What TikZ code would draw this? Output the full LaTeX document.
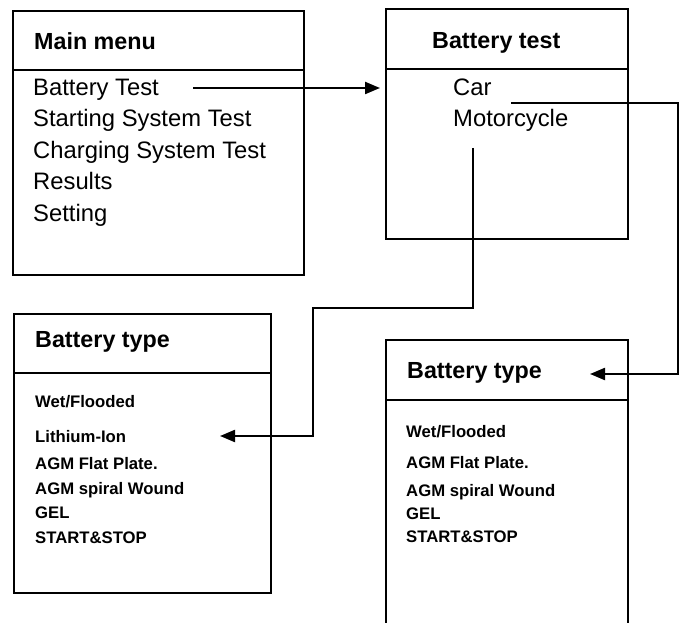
\documentclass[tikz,border=0pt]{standalone}
\usepackage{fontspec}
\setmainfont{Liberation Sans}
\usetikzlibrary{calc}
\usetikzlibrary{arrows.meta}
\tikzstyle{menubox} = [
    draw,
    line width=2.2pt,
    rectangle,
    anchor=north west,
    inner sep=0pt
    ]
\tikzstyle{menutitle} =[
    anchor=base west,
    inner sep=0pt,
    font=\bfseries\fontsize{23.3}{27}\selectfont
    ]
\tikzstyle{menuitem} =[
    anchor=base west,
    inner sep=0pt,
    font=\fontsize{23.8}{27}\selectfont
    ]
\tikzstyle{typeitem} =[
    anchor=base west,
    inner sep=0pt,
    font=\bfseries\fontsize{16.7}{20}\selectfont
    ]
\tikzstyle{divider} = [line width=2.2pt]
\tikzstyle{link} = [line width=2.2pt, -{Triangle[length=15pt,width=12pt]}]

\begin{document}
\begin{tikzpicture}[x=1pt,y=-1pt]
\clip (0,0) rectangle (681,623);

% boxes
\node[menubox, minimum width=291, minimum height=264] (main) at (12,10) {};
\node[menubox, minimum width=242, minimum height=230] (test) at (385,8) {};
\node[menubox, minimum width=257, minimum height=279] (typeL) at (13,313) {};
\node[menubox, minimum width=242, minimum height=330] (typeR) at (385,339) {};
\draw[divider] ($(main.north west)+(0,60)$) -- ($(main.north east)+(0,60)$);
\draw[divider] ($(test.north west)+(0,61)$) -- ($(test.north east)+(0,61)$);
\draw[divider] ($(typeL.north west)+(0,60)$) -- ($(typeL.north east)+(0,60)$);
\draw[divider] ($(typeR.north west)+(0,61)$) -- ($(typeR.north east)+(0,61)$);

% main menu
\node[menutitle] (mainT) at (34,50) {Main menu};
\node[menuitem] (bt) at (33,95.5) {Battery Test};
\node[menuitem] (sst) at (33,127) {Starting System Test};
\node[menuitem] (cst) at (33,158.5) {Charging System Test};
\node[menuitem] (res) at (33,190) {Results};
\node[menuitem] (set) at (33,221.5) {Setting};

% battery test
\node[menutitle] (testT) at (432,49) {Battery test};
\node[menuitem] (car) at (453,95.5) {Car};
\node[menuitem] (moto) at (453,127) {Motorcycle};

% battery type (left)
\node[menutitle] (typeLT) at (35,347) {Battery type};
\node[typeitem] (wetL) at (35,407) {Wet/Flooded};
\node[typeitem] (li) at (35,442) {Lithium-Ion};
\node[typeitem] (flatL) at (35,469) {AGM Flat Plate.};
\node[typeitem] (spiralL) at (35,494) {AGM spiral Wound};
\node[typeitem] (gelL) at (35,518) {GEL};
\node[typeitem] (ssL) at (35,543) {START\&STOP};

% battery type (right)
\node[menutitle] (typeRT) at (407,378) {Battery type};
\node[typeitem] (wetR) at (406,437) {Wet/Flooded};
\node[typeitem] (flatR) at (406,468) {AGM Flat Plate.};
\node[typeitem] (spiralR) at (406,496) {AGM spiral Wound};
\node[typeitem] (gelR) at (406,519) {GEL};
\node[typeitem] (ssR) at (406,542) {START\&STOP};

% links
\coordinate (btout) at (193,88);
\coordinate (carout) at (511,103);
\coordinate (carturn) at (678,374);
\coordinate (carin) at (590,374);
\coordinate (motout) at (473,148);
\coordinate (motmid) at (313,308);
\coordinate (motin) at (220,436);
\draw[link, shorten >=5pt] (btout) -- (btout -| test.west);
\draw[link] (carout) -| (carturn) -- (carin);
\draw[link] (motout) |- (motmid) |- (motin);
\end{tikzpicture}
\end{document}
